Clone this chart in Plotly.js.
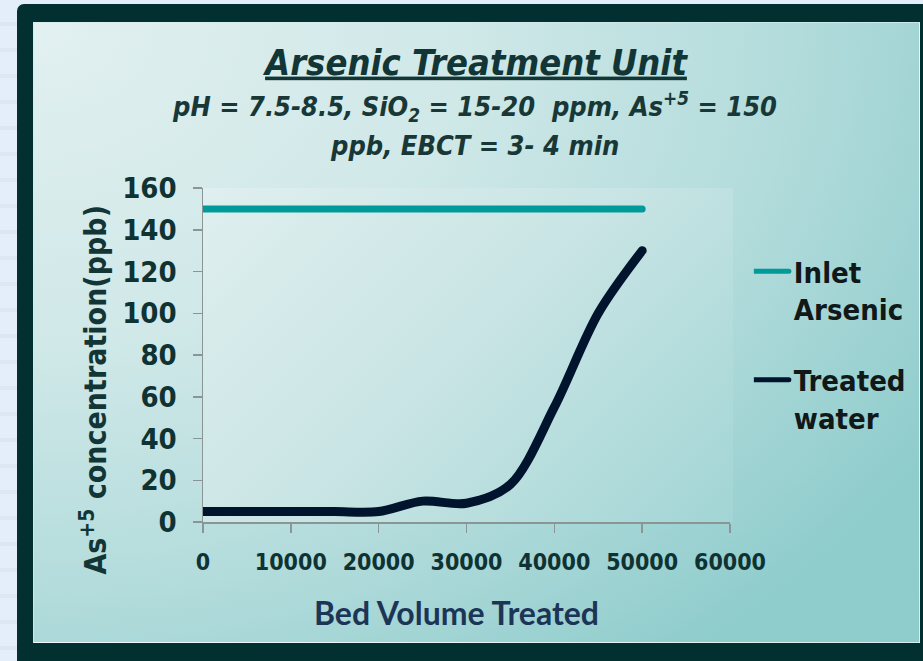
<!DOCTYPE html>
<html>
<head>
<meta charset="utf-8">
<script src="https://cdn.plot.ly/plotly-3.0.1.min.js"></script>
<style>
  html, body { margin: 0; padding: 0; }
  #wrap { position: relative; width: 923px; height: 661px; overflow: hidden;
    background: repeating-linear-gradient(180deg, #e4eefa 0px, #e4eefa 22px, #dbe7f5 22px, #dbe7f5 26px); }
  #frame { position: absolute; left: 17px; top: 4px; width: 930px; height: 680px; background: #023030; border-radius: 7px; }
  #panel { position: absolute; left: 33px; top: 22px; width: 887px; height: 621px; box-sizing: border-box;
    border: 1px solid rgba(255,255,255,0.55);
    background: radial-gradient(ellipse 120% 130% at 0% 0%, #e2f0f0 0%, #d0e8e8 40%, #b4dcdc 70%, #8fcccc 100%); }
  #plotbg { position: absolute; left: 203px; top: 188px; width: 530px; height: 334px;
    background: linear-gradient(135deg, #e0efef 0%, #c8e4e4 50%, #a2d5d5 100%); }
  #chart { position: absolute; left: 0; top: 0; width: 923px; height: 661px; }
  .scatterlayer path.js-line { stroke-linecap: round; }
  .legend .legendlines path { stroke-width: 5px !important; stroke-linecap: round; d: path('M-13,0h48'); }
</style>
</head>
<body>
<div id="wrap">
  <div id="frame"></div>
  <div id="panel"></div>
  <div id="plotbg"></div>
  <div id="chart"></div>
</div>
<script>
// Data
const bedVolumes   = [0, 5000, 10000, 15000, 20000, 25000, 30000, 35000, 40000, 45000, 50000];
const inletArsenic = [150, 150, 150, 150, 150, 150, 150, 150, 150, 150, 150];
const treatedWater = [5, 5, 5, 5, 5, 10, 9, 18, 55, 100, 130];
const seriesNames  = ['Inlet<br>Arsenic', 'Treated<br>water'];
const xTicks = [0, 10000, 20000, 30000, 40000, 50000, 60000];
const yTicks = [0, 20, 40, 60, 80, 100, 120, 140, 160];

const condensed = '"DejaVu Sans Condensed", "DejaVu Sans", sans-serif';
const darkText = '#0f3333';

const traces = [
  { x: bedVolumes, y: inletArsenic, name: seriesNames[0], type: 'scatter', mode: 'lines',
    line: { color: '#009a9a', width: 7 }, legendgroup: 'a' },
  { x: bedVolumes, y: treatedWater, name: seriesNames[1], type: 'scatter', mode: 'lines',
    line: { color: '#00142e', width: 9, shape: 'spline', smoothing: 0.9 }, legendgroup: 'b' }
];

const layout = {
  width: 923, height: 661,
  margin: { l: 203, r: 190, t: 188, b: 139 },
  paper_bgcolor: 'rgba(0,0,0,0)', plot_bgcolor: 'rgba(0,0,0,0)',
  title: {
    text: '<u>Arsenic Treatment Unit</u>',
    font: { family: condensed, size: 36, color: '#123636', weight: 'bold', style: 'italic' },
    x: 476 / 923, xanchor: 'center', xref: 'container',
    y: 1 - 62 / 661, yanchor: 'middle', yref: 'container'
  },
  xaxis: {
    range: [0, 60000], tickvals: xTicks, ticktext: xTicks.map(String),
    showgrid: false, zeroline: false, showline: true, linecolor: '#8a9696', linewidth: 1.5,
    ticks: 'outside', ticklen: 9, tickwidth: 1.5, tickcolor: '#8a9696',
    tickfont: { family: condensed, size: 23, color: darkText, weight: 'bold' },
    ticklabelstandoff: 10, fixedrange: true
  },
  yaxis: {
    range: [0, 160], tickvals: yTicks, ticktext: yTicks.map(String),
    showgrid: false, zeroline: false, showline: true, linecolor: '#8a9696', linewidth: 1.5,
    ticks: 'outside', ticklen: 9, tickwidth: 1.5, tickcolor: '#8a9696',
    tickfont: { family: condensed, size: 29, color: darkText, weight: 'bold' },
    ticklabelstandoff: 10, fixedrange: true
  },
  showlegend: true,
  legend: {
    x: (757 - 203) / 530, xanchor: 'left', y: (522 - 246) / 334, yanchor: 'top',
    bgcolor: 'rgba(0,0,0,0)', borderwidth: 0, valign: 'top',
    font: { family: condensed, size: 29, color: '#111818', weight: 'bold' },
    tracegroupgap: 30, traceorder: 'grouped'
  },
  annotations: [
    { text: 'pH = 7.5-8.5, SiO<sub>2</sub> = 15-20  ppm, As<sup>+5</sup> = 150',
      xref: 'paper', yref: 'paper', x: (476 - 203) / 530, y: (522 - 107) / 334,
      xanchor: 'center', yanchor: 'middle', showarrow: false,
      font: { family: condensed, size: 27, color: '#183838', weight: 'bold', style: 'italic' } },
    { text: 'ppb, EBCT = 3- 4 min',
      xref: 'paper', yref: 'paper', x: (476 - 203) / 530, y: (522 - 145) / 334,
      xanchor: 'center', yanchor: 'middle', showarrow: false,
      font: { family: condensed, size: 27, color: '#183838', weight: 'bold', style: 'italic' } },
    { text: 'Bed Volume Treated',
      xref: 'paper', yref: 'paper', x: (458 - 203) / 530, y: (522 - 612) / 334,
      xanchor: 'center', yanchor: 'middle', showarrow: false,
      font: { family: 'Lato, "Open Sans", sans-serif', size: 32, color: '#1c3556', weight: 'bold' } },
    { text: 'As<sup>+5</sup> concentration(ppb)',
      xref: 'paper', yref: 'paper', x: (93 - 203) / 530, y: (522 - 390) / 334,
      xanchor: 'center', yanchor: 'middle', showarrow: false, textangle: -90,
      font: { family: condensed, size: 30, color: '#123636', weight: 'bold' } }
  ]
};

Plotly.newPlot('chart', traces, layout, { displayModeBar: false, staticPlot: true });
</script>
</body>
</html>
